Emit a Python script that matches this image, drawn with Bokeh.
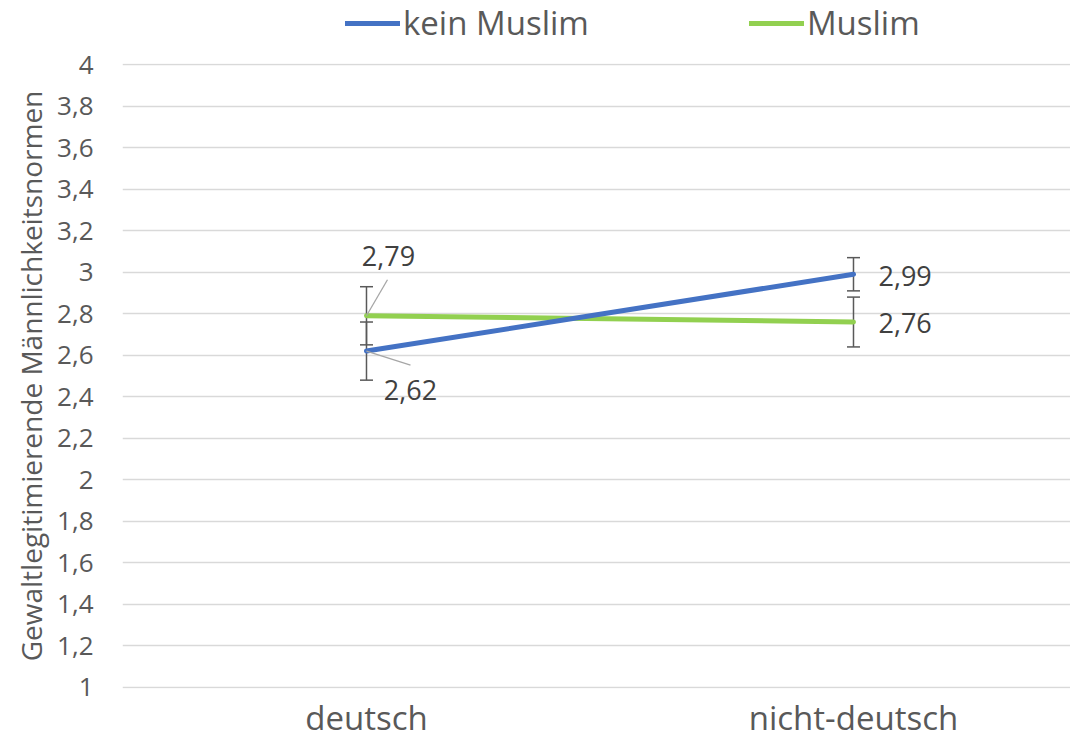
from bokeh.plotting import figure
from bokeh.layouts import column
from bokeh.models import (Range1d, FixedTicker, ColumnDataSource, Whisker, TeeHead,
                          Legend, LegendItem)
from bokeh.core.properties import value
from bokeh.embed import file_html
from bokeh.resources import INLINE

categories = ["deutsch", "nicht-deutsch"]
kein_muslim = [2.62, 2.99]
muslim = [2.79, 2.76]
kein_err = [0.14, 0.08]
muslim_err = [0.14, 0.12]
label_kein = ["2,62", "2,99"]
label_muslim = ["2,79", "2,76"]
y_ticks = [1, 1.2, 1.4, 1.6, 1.8, 2, 2.2, 2.4, 2.6, 2.8, 3, 3.2, 3.4, 3.6, 3.8, 4]

FONT = "Open Sans"
BLUE = "#4472C4"
GREEN = "#92D050"
GREY_TXT = "#595959"

xs = list(range(len(categories)))
W = 1070
TOP_H = 45
MAIN_H = 698

x_range = Range1d(-0.501, 1.4456)

src = ColumnDataSource(dict(x=xs, kein=kein_muslim, mus=muslim,
                            k_up=[v + e for v, e in zip(kein_muslim, kein_err)],
                            k_lo=[v - e for v, e in zip(kein_muslim, kein_err)],
                            m_up=[v + e for v, e in zip(muslim, muslim_err)],
                            m_lo=[v - e for v, e in zip(muslim, muslim_err)]))

# ---------- main chart ----------
p = figure(width=W, height=MAIN_H, output_backend="svg", toolbar_location=None,
           x_range=x_range, y_range=Range1d(0.995, 4.005),
           min_border_left=122, min_border_right=0, min_border_top=18, min_border_bottom=55)
p.outline_line_color = None

p.xaxis.ticker = FixedTicker(ticks=xs)
p.xaxis.major_label_overrides = {i: c for i, c in enumerate(categories)}
p.yaxis.ticker = FixedTicker(ticks=y_ticks)
p.yaxis.major_label_overrides = {t: (f"{t:g}").replace(".", ",") for t in y_ticks}
for ax in (p.xaxis, p.yaxis):
    ax.axis_line_color = None
    ax.major_tick_line_color = None
    ax.minor_tick_line_color = None
    ax.major_label_text_font = FONT
    ax.major_label_text_color = GREY_TXT
p.xaxis.major_label_text_font_size = "33px"
p.xaxis.major_label_standoff = 0
p.yaxis.major_label_text_font_size = "26px"
p.yaxis.major_label_standoff = 23
p.yaxis.axis_label = "Gewaltlegitimierende Männlichkeitsnormen"
p.yaxis.axis_label_text_font = FONT
p.yaxis.axis_label_text_font_size = "28px"
p.yaxis.axis_label_text_font_style = "normal"
p.yaxis.axis_label_text_color = GREY_TXT
p.yaxis.axis_label_standoff = 4
p.xgrid.grid_line_color = None
p.ygrid.grid_line_color = "#d9d9d9"
p.ygrid.grid_line_width = 1.3

r_m = p.line("x", "mus", source=src, line_color=GREEN, line_width=5, line_cap="round")
r_k = p.line("x", "kein", source=src, line_color=BLUE, line_width=5, line_cap="round")

for up, lo in (("k_up", "k_lo"), ("m_up", "m_lo")):
    w = Whisker(source=src, base="x", upper=up, lower=lo, line_color=GREY_TXT, line_width=1.5,
                upper_head=TeeHead(size=13, line_color=GREY_TXT, line_width=1.5),
                lower_head=TeeHead(size=13, line_color=GREY_TXT, line_width=1.5))
    p.add_layout(w)

# leader lines for the labels at "deutsch" (screen-pixel offsets converted to data units)
px_x = 1 / 487.0
px_y = 3.01 / 625.0
p.segment(x0=[xs[0], xs[0]], y0=[muslim[0], kein_muslim[0]],
          x1=[xs[0] + 21 * px_x, xs[0] + 44 * px_x],
          y1=[muslim[0] + 36 * px_y, kein_muslim[0] - 14 * px_y],
          line_color="#a6a6a6", line_width=1.3)

lbl_font = dict(text_font=value(FONT), text_font_size="27px", text_color="#404040")
p.text(x=[xs[0]], y=[muslim[0]], text=[label_muslim[0]], x_offset=22, y_offset=-60,
       text_align="center", text_baseline="middle", **lbl_font)
p.text(x=[xs[0]], y=[kein_muslim[0]], text=[label_kein[0]], x_offset=44, y_offset=39,
       text_align="center", text_baseline="middle", **lbl_font)
p.text(x=[xs[1]], y=[kein_muslim[1]], text=[label_kein[1]], x_offset=25, y_offset=2,
       text_align="left", text_baseline="middle", **lbl_font)
p.text(x=[xs[1]], y=[muslim[1]], text=[label_muslim[1]], x_offset=25, y_offset=1,
       text_align="left", text_baseline="middle", **lbl_font)

# ---------- legend strip on top ----------
top = figure(width=W, height=TOP_H, output_backend="svg", toolbar_location=None,
             x_range=x_range, y_range=Range1d(100, 101),
             x_axis_type=None, y_axis_type=None,
             min_border_left=0, min_border_right=0, min_border_top=0, min_border_bottom=0)
top.outline_line_color = None
top.grid.visible = False
t_k = top.line("x", "kein", source=src, line_color=BLUE, line_width=5, line_cap="round")
t_m = top.line("x", "mus", source=src, line_color=GREEN, line_width=5, line_cap="round")
legend = Legend(items=[LegendItem(label="kein Muslim", renderers=[t_k]),
                       LegendItem(label="Muslim", renderers=[t_m])],
                orientation="horizontal", location=(223, 0),
                label_text_font=FONT, label_text_font_size="33px", label_text_color=GREY_TXT,
                glyph_width=55, glyph_height=30, label_standoff=3, spacing=160,
                padding=0, margin=0, border_line_color=None, background_fill_alpha=0)
top.add_layout(legend, "center")

layout = column(top, p, spacing=0)
open("out.html", "w").write(file_html(layout, INLINE))
